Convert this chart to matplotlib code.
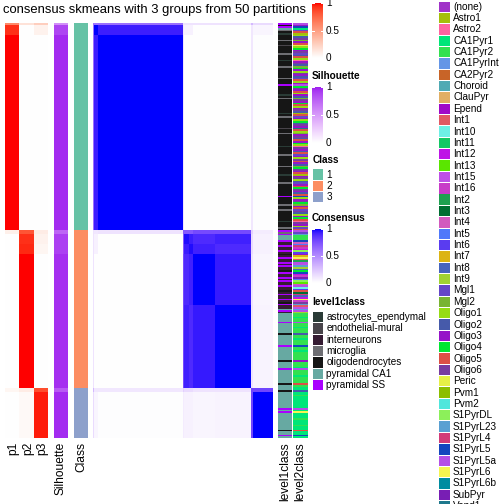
import numpy as np
import matplotlib
matplotlib.use("Agg")
import matplotlib.pyplot as plt
from matplotlib.colors import ListedColormap
from matplotlib.patches import Rectangle

plt.rcParams['font.family'] = ['Liberation Sans', 'DejaVu Sans']

# ---------------- data ----------------
title = "consensus skmeans with 3 groups from 50 partitions"

# sub-clusters (in display order) : size, class, p1, p2, p3, silhouette
sub_sizes = [1, 6, 118, 2, 6, 6, 31, 50, 2, 28]
sub_class = [1, 1, 1, 2, 2, 2, 2, 2, 3, 3]
sub_p1 = [0.60, 0.93, 1.00, 0.08, 0.00, 0.00, 0.00, 0.00, 0.05, 0.00]
sub_p2 = [0.15, 0.00, 0.00, 0.82, 0.93, 0.95, 1.00, 1.00, 0.10, 0.03]
sub_p3 = [0.25, 0.07, 0.00, 0.10, 0.07, 0.05, 0.00, 0.00, 0.85, 0.97]
sub_sil = [0.55, 0.88, 0.97, 0.75, 0.90, 0.90, 0.96, 0.96, 0.80, 0.97]

# consensus between sub-clusters (upper triangle, row by row)
consensus_upper = [
    [0.60, 0.60, 0.62, 0.12, 0.12, 0.12, 0.12, 0.12, 0.30, 0.15],
    [1.00, 0.94, 0.10, 0.06, 0.06, 0.00, 0.00, 0.10, 0.04],
    [1.00, 0.12, 0.00, 0.00, 0.00, 0.00, 0.10, 0.01],
    [0.72, 0.72, 0.72, 0.78, 0.78, 0.20, 0.08],
    [0.98, 0.94, 0.90, 0.93, 0.15, 0.06],
    [0.98, 0.93, 0.90, 0.15, 0.06],
    [1.00, 0.95, 0.12, 0.04],
    [1.00, 0.12, 0.05],
    [0.80, 0.80],
    [1.00],
]

class_names = ["1", "2", "3"]
class_colors = ["#66C2A5", "#FC8D62", "#8DA0CB"]

level1_names = ["astrocytes_ependymal", "endothelial-mural", "interneurons",
                "microglia", "oligodendrocytes", "pyramidal CA1", "pyramidal SS"]
level1_codes = "AEIMOCS"
level1_colors = ["#2A3B36", "#48444A", "#361C33", "#6E6E73", "#161616",
                 "#67A9A2", "#AA00FF"]

level1_samples = (
    "SOSCMOAOOO" "MOOEOOOOMO" "OOAOOOMOOO" "OOOMOOOSOO" "OOOAOMOOOO"
    "OOOOAOMOOO" "OOOEOOMOOO" "OOOOAOOOOM" "OOOOOOMOOO" "OAOOOOMOOO"
    "OOOOSOOOOM" "OOMOOOOOOA" "OOOMO"
    "SMSCCCSIIS" "IISIOISIIS" "ISIIOSIISI" "SIISIIOISI" "ISIOSIICSI"
    "CCCCCSCCCC" "CCOCCCCCCS" "CCCCCCCCOC" "CCCSCCCCCC" "CCOCC"
    "COCCCCCCCC" "CCSCSCCCCC" "CCCCCOCCSC"
)

level2_names = ["(none)", "Astro1", "Astro2", "CA1Pyr1", "CA1Pyr2", "CA1PyrInt",
                "CA2Pyr2", "Choroid", "ClauPyr", "Epend", "Int1", "Int10", "Int11",
                "Int12", "Int13", "Int15", "Int16", "Int2", "Int3", "Int4", "Int5",
                "Int6", "Int7", "Int8", "Int9", "Mgl1", "Mgl2", "Oligo1", "Oligo2",
                "Oligo3", "Oligo4", "Oligo5", "Oligo6", "Peric", "Pvm1", "Pvm2",
                "S1PyrDL", "S1PyrL23", "S1PyrL4", "S1PyrL5", "S1PyrL5a", "S1PyrL6",
                "S1PyrL6b", "SubPyr", "Vend1"]
level2_codes = "0123456789abcdefghijklmnopqrstuvwxyzABCDEFGHI"
level2_colors = ["#A033C8", "#A5BE0A", "#FF64A0", "#00E678", "#32E150", "#6496E6",
                 "#C86428", "#50AAB4", "#E1AF64", "#A00AC8", "#E15A64", "#6EF0E6",
                 "#14C864", "#BE14E6", "#5AE600", "#BE50E6", "#C83CC8", "#1EA050",
                 "#006E32", "#D25ABE", "#5078FA", "#5A3CF0", "#DCB414", "#4664BE",
                 "#A0D232", "#6446C8", "#78B432", "#96DC14", "#465AAA", "#9614C8",
                 "#00E632", "#DC5046", "#783CA0", "#E6F046", "#8CBE00", "#50E6DC",
                 "#8CF05A", "#5AA0D2", "#D23C78", "#1446BE", "#B450E6", "#F5F550",
                 "#008CA0", "#781EB4", "#1E788C"]

level2_samples = (
    "EtD3pv1rsw" "qtvxrutwps" "vr2twsqutr" "wtspvrtEuw" "tvr9sqwtuv"
    "rtws1vptru" "swtIvrqtws" "vtur2wtsvp" "trwvtsquwt" "v1twrsptvu"
    "wtsvDrtwuq" "tvpwsrtuv2" "wtrpv"
    "EpB444DjkC" "gdAltmFahE" "fBonuDdgHk" "AejEblviCn" "dFgwBaf5Eo"
    "44344E4434" "44s443444D" "44344444t4" "443E444344" "44v43"
    "3s33433333" "33E3F33343" "33433v33D3"
)

# ---------------- helpers ----------------
_M = np.array([[0.4124, 0.3576, 0.1805], [0.2126, 0.7152, 0.0722], [0.0193, 0.1192, 0.9505]])
_Minv = np.linalg.inv(_M)
_WN = np.array([0.95047, 1.0, 1.08883])
_d = 6 / 29


def rgb2lab(rgb):
    c = np.asarray(rgb, float)
    lin = np.where(c <= 0.04045, c / 12.92, ((c + 0.055) / 1.055) ** 2.4)
    xyz = _M @ lin / _WN
    f = np.where(xyz > _d ** 3, np.cbrt(xyz), xyz / (3 * _d ** 2) + 4 / 29)
    return np.array([116 * f[1] - 16, 500 * (f[0] - f[1]), 200 * (f[1] - f[2])])


def lab2rgb(lab):
    L, a, b = lab
    fy = (L + 16) / 116
    f = np.array([fy + a / 500, fy, fy - b / 200])
    xyz = np.where(f > _d, f ** 3, 3 * _d ** 2 * (f - 4 / 29)) * _WN
    lin = np.clip(_Minv @ xyz, 0, 1)
    return np.clip(np.where(lin <= 0.0031308, 12.92 * lin, 1.055 * lin ** (1 / 2.4) - 0.055), 0, 1)


def lab_cmap(hexcol):
    c1 = np.array(matplotlib.colors.to_rgb(hexcol))
    l0, l1 = rgb2lab(np.ones(3)), rgb2lab(c1)
    return ListedColormap([lab2rgb(l0 + t * (l1 - l0)) for t in np.linspace(0, 1, 256)])


cm_p = lab_cmap("#FF0000")
cm_sil = lab_cmap("#A020F0")
cm_cons = lab_cmap("#0000FF")

# ---------------- per-sample expansion ----------------
sub_idx = np.repeat(np.arange(len(sub_sizes)), sub_sizes)
nb = len(sub_sizes)
B = np.zeros((nb, nb))
for i, row in enumerate(consensus_upper):
    for k, v in enumerate(row):
        B[i, i + k] = v
        B[i + k, i] = v
cons = B[sub_idx][:, sub_idx]
P = np.column_stack([np.array(sub_p1)[sub_idx], np.array(sub_p2)[sub_idx], np.array(sub_p3)[sub_idx]])
sil = np.array(sub_sil)[sub_idx][:, None]
cls = (np.array(sub_class)[sub_idx] - 1)[:, None]
lv1 = np.array([level1_codes.index(ch) for ch in level1_samples])[:, None]
lv2 = np.array([level2_codes.index(ch) for ch in level2_samples])[:, None]

# ---------------- figure ----------------
W = H = 504
fig = plt.figure(figsize=(W / 72, H / 72), dpi=72)
ax = fig.add_axes([0, 0, 1, 1])
ax.axis("off")

TOP, BOT = 23, 438


def draw(mat, x0, x1, cmap, vmin=0, vmax=1):
    ax.imshow(mat, cmap=cmap, vmin=vmin, vmax=vmax, aspect="auto",
              interpolation="nearest", extent=(x0, x1, BOT, TOP))


draw(P, 5, 48, cm_p)
draw(sil, 54, 68, cm_sil)
draw(cls, 74, 88, ListedColormap(class_colors), 0, len(class_colors) - 1)
draw(cons, 93, 273, cm_cons)
draw(lv1, 278, 292, ListedColormap(level1_colors), 0, len(level1_colors) - 1)
draw(lv2, 293, 308, ListedColormap(level2_colors), 0, len(level2_colors) - 1)

ax.text(3, 10, title, fontsize=13, ha="left", va="center")

for x, lab in [(13, "p1"), (28, "p2"), (42, "p3"), (61, "Silhouette"), (81, "Class"),
               (285, "level1class"), (300.5, "level2class")]:
    ax.text(x, 442, lab, rotation=90, ha="center", va="top", fontsize=12)


def colorbar(cmap, ytop, ybot, title=None, ty=None):
    grad = np.linspace(1, 0, 100)[:, None]
    ax.imshow(grad, cmap=cmap, vmin=0, vmax=1, aspect="auto", interpolation="bilinear",
              extent=(312, 323, ybot, ytop))
    for v, lab in [(1, "1"), (0.5, "0.5"), (0, "0")]:
        y = ybot - v * (ybot - ytop)
        ax.plot([312, 314], [y, y], color="white", lw=1)
        ax.plot([321, 323], [y, y], color="white", lw=1)
        ax.text(326, y, lab, fontsize=10, ha="left", va="center")
    if title:
        ax.text(312, ty, title, fontsize=10, fontweight="bold", ha="left", va="center")


colorbar(cm_p, 3, 58)
colorbar(cm_sil, 87, 143, "Silhouette", 76)
colorbar(cm_cons, 229, 283, "Consensus", 218)


def discrete_legend(x, y0, names, colors, title=None, ty=None):
    step = 11.35
    for i, (nm, c) in enumerate(zip(names, colors)):
        yc = y0 + i * step
        ax.add_patch(Rectangle((x, yc - 5.2), 10.5, 10.4, facecolor=c, edgecolor="none"))
        ax.text(x + 14, yc, nm, fontsize=10, ha="left", va="center")
    if title:
        ax.text(x, ty, title, fontsize=10, fontweight="bold", ha="left", va="center")


discrete_legend(312.5, 174.5, class_names, class_colors, "Class", 160)
discrete_legend(312.5, 317, level1_names, level1_colors, "level1class", 302)
discrete_legend(439, 6.7, level2_names, level2_colors)

ax.set_xlim(0, W)
ax.set_ylim(H, 0)
fig.savefig("out.png", dpi=72)
